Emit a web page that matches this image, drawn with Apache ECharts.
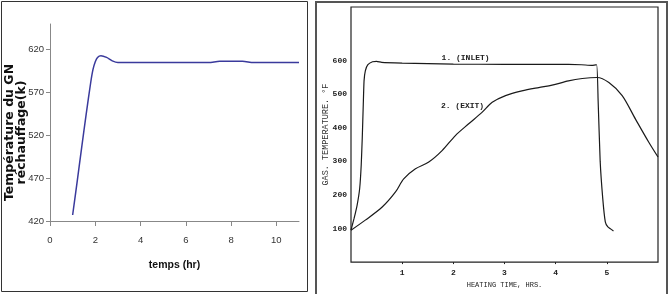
<!DOCTYPE html>
<html>
<head>
<meta charset="utf-8">
<script src="https://cdn.jsdelivr.net/npm/echarts@6/dist/echarts.min.js"></script>
<style>
  html, body { margin: 0; padding: 0; background: #fff; }
  #main { width: 670px; height: 294px; }
</style>
</head>
<body>
<div id="main"></div>
<script>
// left chart: GN temperature vs time (hr)
var gnTemp = [
  [1, 427], [1.2, 466], [1.4, 506], [1.6, 545], [1.8, 582], [1.9, 597],
  [2, 606], [2.1, 611], [2.25, 613], [2.5, 611], [2.75, 607], [3, 605],
  [7, 605], [7.5, 606.5], [8.5, 606.5], [9, 605], [11, 605]
];
var leftYTicks = [420, 470, 520, 570, 620];
var leftXTicks = [0, 2, 4, 6, 8, 10];

// right chart: gas temperature (F) vs heating time (hrs)
var inlet = [
  [0, 95], [0.06, 130], [0.12, 170], [0.17, 220], [0.2, 290], [0.22, 370],
  [0.24, 470], [0.255, 540], [0.28, 570], [0.33, 588], [0.42, 597], [0.5, 598],
  [0.6, 595], [1, 593], [2, 590], [3, 589], [4, 589.5], [4.5, 588], [4.7, 586],
  [4.8, 588], [4.83, 480], [4.87, 300], [4.92, 190], [4.97, 120], [5.02, 105],
  [5.13, 93]
];
var exit = [
  [0, 95], [0.28, 125], [0.61, 164], [0.87, 209], [1.03, 248], [1.26, 278],
  [1.52, 298], [1.78, 332], [2.04, 377], [2.3, 412], [2.56, 446], [2.76, 476],
  [3.02, 496], [3.34, 510], [3.67, 520], [3.93, 527], [4.25, 540], [4.52, 547],
  [4.81, 550], [5.04, 535], [5.3, 496], [5.56, 426], [5.82, 357], [6.0, 313]
];
var rightYTicks = [100, 200, 300, 400, 500, 600];
var rightXTicks = [1, 2, 3, 4, 5];
var inletLabelAt = [2.24, 607];
var exitLabelAt = [2.18, 465];

var sans = "'Liberation Sans', Arial, sans-serif";
var mono = "'Liberation Mono', 'DejaVu Sans Mono', monospace";

var chart = echarts.init(document.getElementById('main'), null, { renderer: 'canvas' });

function curveLabel(text, at) {
  return {
    symbol: 'circle', symbolSize: 1,
    itemStyle: { color: 'transparent' },
    data: [{
      coord: at,
      label: { show: true, position: 'inside', formatter: text, fontFamily: mono, fontWeight: 'bold', fontSize: 8, color: '#222' }
    }]
  };
}

var option = {
  animation: false,
  backgroundColor: '#fff',
  graphic: [
    { type: 'rect', shape: { x: 1.5, y: 1.5, width: 306, height: 290 }, style: { fill: 'none', stroke: '#333', lineWidth: 1 }, silent: true },
    { type: 'rect', shape: { x: 316, y: 2, width: 351, height: 300 }, style: { fill: 'none', stroke: '#555', lineWidth: 2 }, silent: true }
  ],
  grid: [
    { left: 50, top: 24, right: 371, bottom: 73 },
    { left: 351, top: 7, right: 12, bottom: 30, show: true, borderColor: '#222', borderWidth: 1.2, backgroundColor: 'transparent' }
  ],
  xAxis: [
    {
      gridIndex: 0, type: 'value', min: 0, max: 11, interval: 2,
      name: 'temps (hr)', nameLocation: 'middle', nameGap: 39,
      nameTextStyle: { fontFamily: sans, fontWeight: 'bold', fontSize: 10.5, color: '#111' },
      axisLine: { show: true, onZero: false, lineStyle: { color: '#888', width: 1 } },
      axisTick: { show: true, length: 5, lineStyle: { color: '#888' }, customValues: leftXTicks },
      axisLabel: { fontFamily: sans, fontSize: 9.5, color: '#333', margin: 14, customValues: leftXTicks },
      splitLine: { show: false }
    },
    {
      gridIndex: 1, type: 'value', min: 0, max: 6, interval: 1,
      name: 'HEATING TIME, HRS.', nameLocation: 'middle', nameGap: 17,
      nameTextStyle: { fontFamily: mono, fontSize: 7, color: '#222' },
      axisLine: { show: false },
      axisTick: { show: true, length: 2, lineStyle: { color: '#222' }, customValues: rightXTicks },
      axisLabel: { fontFamily: mono, fontWeight: 'bold', fontSize: 8, color: '#222', margin: 7, customValues: rightXTicks },
      splitLine: { show: false }
    }
  ],
  yAxis: [
    {
      gridIndex: 0, type: 'value', min: 420, max: 650, interval: 50,
      name: 'Température du GN\nréchauffage(k)', nameLocation: 'middle', nameGap: 22,
      nameMoveOverlap: false,
      nameTextStyle: { fontFamily: "'DejaVu Sans', sans-serif", fontWeight: 'bold', fontSize: 12.5, lineHeight: 12, color: '#111', padding: [0, 20, 0, 0] },
      axisLine: { show: true, onZero: false, lineStyle: { color: '#888', width: 1 } },
      axisTick: { show: true, length: 4, lineStyle: { color: '#888' }, customValues: leftYTicks },
      axisLabel: { fontFamily: sans, fontSize: 9.5, color: '#333', margin: 6, customValues: leftYTicks },
      splitLine: { show: false }
    },
    {
      gridIndex: 1, type: 'value', min: 0, max: 760, interval: 100,
      name: 'GAS. TEMPERATURE. °F', nameLocation: 'middle', nameGap: 21,
      nameMoveOverlap: false,
      nameTextStyle: { fontFamily: mono, fontSize: 8.5, color: '#333' },
      axisLine: { show: false },
      axisTick: { show: false },
      axisLabel: { fontFamily: mono, fontWeight: 'bold', fontSize: 8, color: '#222', margin: 4, customValues: rightYTicks },
      splitLine: { show: false }
    }
  ],
  series: [
    {
      type: 'line', xAxisIndex: 0, yAxisIndex: 0, data: gnTemp,
      smooth: 0.3, showSymbol: false,
      lineStyle: { color: '#3a3a9c', width: 1.5 }
    },
    {
      type: 'line', xAxisIndex: 1, yAxisIndex: 1, data: inlet,
      smooth: 0.15, showSymbol: false,
      lineStyle: { color: '#1a1a1a', width: 1.2 },
      markPoint: curveLabel('1. (INLET)', inletLabelAt)
    },
    {
      type: 'line', xAxisIndex: 1, yAxisIndex: 1, data: exit,
      smooth: 0.3, showSymbol: false,
      lineStyle: { color: '#1a1a1a', width: 1.2 },
      markPoint: curveLabel('2. (EXIT)', exitLabelAt)
    }
  ]
};

chart.setOption(option);
</script>
</body>
</html>
